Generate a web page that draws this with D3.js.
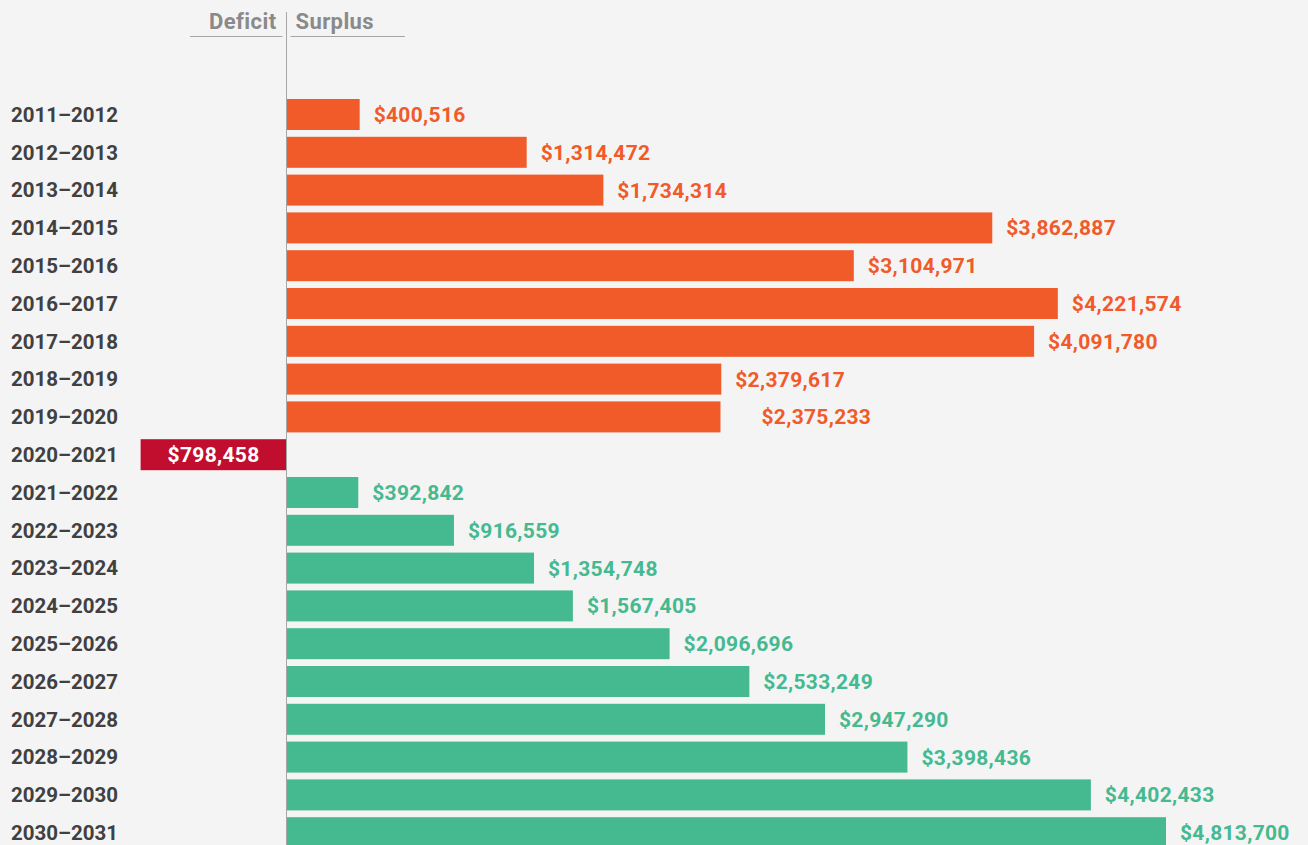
<!DOCTYPE html>
<html>
<head>
<meta charset="utf-8">
<script src="https://cdn.jsdelivr.net/npm/d3@7"></script>
<style>
  html, body { margin: 0; padding: 0; background: #f4f4f4; }
  svg { display: block; font-family: Roboto, "Liberation Sans", sans-serif; }
</style>
</head>
<body>
<div id="chart"></div>
<script>
// fiscal years and surplus(+)/deficit(-) amounts
const years = ["2011–2012", "2012–2013", "2013–2014", "2014–2015", "2015–2016",
  "2016–2017", "2017–2018", "2018–2019", "2019–2020", "2020–2021",
  "2021–2022", "2022–2023", "2023–2024", "2024–2025", "2025–2026",
  "2026–2027", "2027–2028", "2028–2029", "2029–2030", "2030–2031"];
const amounts = [400516, 1314472, 1734314, 3862887, 3104971,
  4221574, 4091780, 2379617, 2375233, -798458,
  392842, 916559, 1354748, 1567405, 2096696,
  2533249, 2947290, 3398436, 4402433, 4813700];
// actual years vs projected years
const kind = ["actual", "actual", "actual", "actual", "actual",
  "actual", "actual", "actual", "actual", "deficit",
  "projected", "projected", "projected", "projected", "projected",
  "projected", "projected", "projected", "projected", "projected"];
const headers = ["Deficit", "Surplus"];

const W = 1308, H = 845;
const colors = { actual: "#f15a29", deficit: "#c10e2f", projected: "#45b98f" };

const data = years.map(function (y, i) {
  return { year: y, value: amounts[i], kind: kind[i] };
});

const svg = d3.select("#chart").append("svg")
  .attr("width", W)
  .attr("height", H);

svg.append("rect").attr("width", W).attr("height", H).attr("fill", "#f4f4f4");

const x = d3.scaleLinear().domain([0, 4813700]).range([286.5, 1166]);
const y = d3.scaleBand().domain(years).range([99, 848.2]).paddingInner(0.18).paddingOuter(0);

const fmt = function (v) { return "$" + d3.format(",")(Math.abs(v)); };

// bars
svg.selectAll(".bar")
  .data(data)
  .enter()
  .append("rect")
  .attr("class", "bar")
  .attr("x", function (d) { return d.value < 0 ? x(d.value) : x(0) + 0.5; })
  .attr("y", function (d) { return y(d.year); })
  .attr("width", function (d) { return Math.abs(x(d.value) - x(0)) - (d.value < 0 ? 0 : 0.5); })
  .attr("height", y.bandwidth())
  .attr("fill", function (d) { return colors[d.kind]; });

// zero line
svg.append("line")
  .attr("x1", x(0)).attr("x2", x(0))
  .attr("y1", 12).attr("y2", H)
  .attr("stroke", "#a6a6a6")
  .attr("stroke-width", 1);

// header
svg.append("text")
  .attr("x", x(0) - 10).attr("y", 29)
  .attr("text-anchor", "end")
  .attr("font-size", 22).attr("font-weight", 700)
  .attr("letter-spacing", 0.4)
  .attr("fill", "#8a8a8a")
  .text(headers[0]);
svg.append("text")
  .attr("x", x(0) + 9).attr("y", 29)
  .attr("text-anchor", "start")
  .attr("font-size", 22).attr("font-weight", 700)
  .attr("letter-spacing", 0.4)
  .attr("fill", "#8a8a8a")
  .text(headers[1]);
svg.append("line")
  .attr("x1", 190).attr("x2", x(0) - 4)
  .attr("y1", 36.5).attr("y2", 36.5)
  .attr("stroke", "#a6a6a6");
svg.append("line")
  .attr("x1", x(0) + 4).attr("x2", 405)
  .attr("y1", 36.5).attr("y2", 36.5)
  .attr("stroke", "#a6a6a6");

// year labels
const yAxis = d3.axisLeft(y).tickSize(0).tickPadding(0);
const ga = svg.append("g")
  .attr("transform", "translate(118,0)")
  .call(yAxis);
ga.select(".domain").remove();
ga.selectAll("text")
  .attr("font-family", "Roboto, sans-serif")
  .attr("font-size", 20.5)
  .attr("font-weight", 700)
  .attr("fill", "#404040")
  .attr("dy", "0.36em");

// value labels
svg.selectAll(".val")
  .data(data)
  .enter()
  .append("text")
  .attr("class", "val")
  .attr("x", function (d) {
    if (d.value < 0) return (x(d.value) + x(0)) / 2;
    // 2019–2020 label sits a bit further out in the original
    return x(d.value) + (d.year === "2019–2020" ? 41 : 14);
  })
  .attr("y", function (d) { return y(d.year) + y.bandwidth() / 2; })
  .attr("dy", "0.36em")
  .attr("text-anchor", function (d) { return d.value < 0 ? "middle" : "start"; })
  .attr("font-size", 21)
  .attr("font-weight", 700)
  .attr("letter-spacing", 0.3)
  .attr("fill", function (d) { return d.value < 0 ? "#ffffff" : colors[d.kind]; })
  .text(function (d) { return fmt(d.value); });
</script>
</body>
</html>
